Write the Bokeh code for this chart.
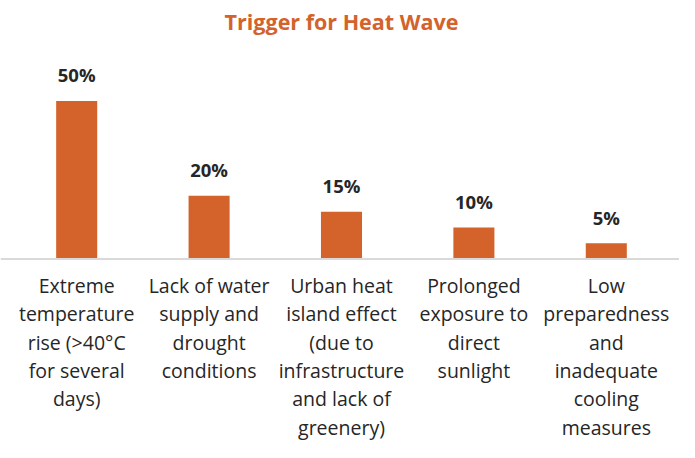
from bokeh.plotting import figure
from bokeh.models import Range1d, Span, Label, ColumnDataSource
from bokeh.core.properties import value
from bokeh.embed import file_html
from bokeh.resources import INLINE

categories = [
    "Extreme\ntemperature\nrise (>40°C\nfor several\ndays)",
    "Lack of water\nsupply and\ndrought\nconditions",
    "Urban heat\nisland effect\n(due to\ninfrastructure\nand lack of\ngreenery)",
    "Prolonged\nexposure to\ndirect\nsunlight",
    "Low\npreparedness\nand\ninadequate\ncooling\nmeasures",
]
values = [50, 20, 15, 10, 5]
value_labels = ["50%", "20%", "15%", "10%", "5%"]
title_text = "Trigger for Heat Wave"

ORANGE = "#D4622B"
DARK = "#262626"

idx = list(range(len(categories)))
src = ColumnDataSource(dict(x=idx, top=values, lab=value_labels, cat=categories,
                            zero=[0] * len(values)))

W, H = 679, 442
p = figure(width=W, height=H, output_backend="svg", toolbar_location=None,
           x_range=Range1d(-0.5755, len(categories) - 0.5 + 0.053),
           y_range=Range1d(-57.96, 81.73),
           min_border=0, outline_line_color=None)
p.xaxis.visible = False
p.yaxis.visible = False
p.grid.visible = False
p.background_fill_color = "white"
p.border_fill_color = "white"

p.vbar(x="x", top="top", bottom=0, width=0.31, source=src,
       fill_color=ORANGE, line_color=None)

p.add_layout(Span(location=0, dimension="width", line_color="#D9D9D9", line_width=2))

p.text(x="x", y="top", text="lab", source=src, y_offset=-26,
       text_align="center", text_baseline="middle",
       text_font=value("Open Sans"), text_font_style="bold",
       text_font_size="18.5px", text_color=DARK)

p.text(x="x", y="zero", text="cat", source=src, y_offset=13,
       text_align="center", text_baseline="top",
       text_font=value("Open Sans"), text_font_size="19.5px",
       text_line_height=1.05, text_color=DARK)

p.add_layout(Label(x=W / 2 + 1.5, y=H - 21, x_units="screen", y_units="screen",
                   text=title_text, text_align="center", text_baseline="middle",
                   text_font="Open Sans", text_font_style="bold",
                   text_font_size="21.5px", text_color=ORANGE))

open("out.html", "w").write(file_html(p, INLINE))
